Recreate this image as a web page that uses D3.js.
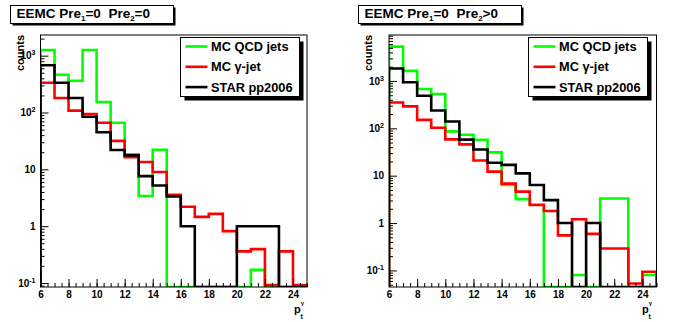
<!DOCTYPE html>
<html>
<head>
<meta charset="utf-8">
<script src="https://cdn.jsdelivr.net/npm/d3@7"></script>
<style>
  body { margin: 0; background: #fff; }
  text { font-family: "Liberation Sans", Arial, Helvetica, sans-serif; font-weight: bold; }
</style>
</head>
<body>
<div id="chart"></div>
<script>
var svgWidth = 696;
var svgHeight = 322;

// photon pT bins, lower edges 6..24 (1 GeV wide)
var binEdges = d3.range(6, 26);

// EEMC Pre1=0 Pre2=0
var leftQcd   = [1260, 462, 363, 1260, 153, 66, 18.4, 3.4, 22, 0, 0, 0, 0, 0, 0, 0.17, 0, 0, 0];
var leftGamma = [335, 180, 108, 94, 66, 31.7, 16.3, 13.5, 9.0, 3.57, 2.2, 1.46, 1.65, 0.82, 0.36, 0.395, 0.092, 0.36, 0.092];
var leftStar  = [677, 335, 180, 84, 45, 21.9, 17.6, 7.6, 5.2, 3.34, 1, 0, 0, 0, 1, 1, 1, 0, 0];

// EEMC Pre1=0 Pre2>0
var rightQcd   = [5300, 1630, 676, 529, 86, 73, 57.5, 31, 6.35, 3.2, 2.43, 0, 0, 0.08, 0, 3.3, 3.3, 0, 0.08];
var rightGamma = [352, 290, 151, 103, 58.5, 45.8, 20.9, 12.2, 6.8, 4.6, 2.4, 1.8, 0.55, 1.2, 0.59, 0.29, 0.29, 0.053, 0.094];
var rightStar  = [1830, 940, 488, 238, 139, 57.6, 35.8, 18.7, 16.9, 11.2, 6.35, 3.05, 1, 0, 1, 0, 0, 0, 0];

var seriesNames = ["MC QCD jets", "MC \u03b3-jet", "STAR pp2006"];
var seriesColors = ["#00ff00", "#ff0000", "#000000"];
var xTicks = [6, 8, 10, 12, 14, 16, 18, 20, 22, 24];
var yTicks = [0.1, 1, 10, 100, 1000];
var yTickLabels = { 0.1: ["10", "-1"], 1: ["1", ""], 10: ["10", ""], 100: ["10", "2"], 1000: ["10", "3"] };

var panels = [
  { ox: 0,   title: ["EEMC Pre", "1", "=0  Pre", "2", "=0"], data: [leftQcd, leftGamma, leftStar],
    left: 40.5, right: 307, yMin: Math.pow(10, -1.07), yMax: Math.pow(10, 3.364) },
  { ox: 348, title: ["EEMC Pre", "1", "=0  Pre", "2", ">0"], data: [rightQcd, rightGamma, rightStar],
    left: 389, right: 656.5, yMin: Math.pow(10, -1.35), yMax: Math.pow(10, 3.97) }
];

var frameTop = 35, frameBottom = 287;

var svg = d3.select("#chart")
  .append("svg")
  .attr("width", svgWidth)
  .attr("height", svgHeight);

panels.forEach(function(p, i) {
  var g = svg.append("g");

  var x = d3.scaleLinear().domain([6, 25]).range([p.left, p.right]);
  var y = d3.scaleLog().domain([p.yMin, p.yMax]).range([frameBottom, frameTop]);

  // clip for histogram lines
  var clipId = "clip" + i;
  svg.append("clipPath").attr("id", clipId)
    .append("rect")
    .attr("x", p.left).attr("y", frameTop)
    .attr("width", p.right - p.left).attr("height", frameBottom - frameTop);

  var line = d3.line()
    .x(function(d) { return x(d[0]); })
    .y(function(d) { return d[1] > 0 ? y(d[1]) : frameBottom; });

  p.data.forEach(function(vals, k) {
    var pts = [[6, 0]];
    vals.forEach(function(v, j) {
      pts.push([binEdges[j], v]);
      pts.push([binEdges[j + 1], v]);
    });
    pts.push([25, 0]);
    g.append("path")
      .attr("clip-path", "url(#" + clipId + ")")
      .attr("d", line(pts))
      .attr("fill", "none")
      .attr("stroke", seriesColors[k])
      .attr("stroke-width", 2.6);
  });

  // frame
  g.append("rect")
    .attr("x", p.left).attr("y", frameTop)
    .attr("width", p.right - p.left).attr("height", frameBottom - frameTop)
    .attr("fill", "none").attr("stroke", "#000").attr("stroke-width", 1);

  // x axis: major and minor ticks pointing into the frame
  var xMinor = d3.range(6, 25.01, 0.5);
  g.append("g")
    .attr("transform", "translate(0," + frameBottom + ")")
    .call(d3.axisBottom(x).tickValues(xMinor).tickSizeInner(-4).tickSizeOuter(0).tickFormat(""))
    .call(function(a) { a.select(".domain").remove(); });
  var xAxis = g.append("g")
    .attr("transform", "translate(0," + frameBottom + ")")
    .call(d3.axisBottom(x).tickValues(xTicks).tickSizeInner(-8).tickSizeOuter(0).tickPadding(4));
  xAxis.select(".domain").remove();
  xAxis.selectAll("text").attr("font-size", 10).attr("fill", "#000")
    .style("font-family", "'Liberation Sans', Arial, sans-serif").style("font-weight", "bold");

  // y axis: log ticks
  var yMinor = [];
  [-2, -1, 0, 1, 2, 3].forEach(function(e) {
    for (var m = 2; m <= 9; m++) {
      var v = m * Math.pow(10, e);
      if (v >= p.yMin && v <= p.yMax) yMinor.push(v);
    }
  });
  g.append("g")
    .attr("transform", "translate(" + p.left + ",0)")
    .call(d3.axisLeft(y).tickValues(yMinor).tickSizeInner(-4).tickSizeOuter(0).tickFormat(""))
    .call(function(a) { a.select(".domain").remove(); });
  var yAxis = g.append("g")
    .attr("transform", "translate(" + p.left + ",0)")
    .call(d3.axisLeft(y).tickValues(yTicks).tickSizeInner(-8).tickSizeOuter(0).tickPadding(5));
  yAxis.select(".domain").remove();
  yAxis.selectAll("text")
    .attr("font-size", 10).attr("fill", "#000")
    .style("font-family", "'Liberation Sans', Arial, sans-serif").style("font-weight", "bold")
    .text(null)
    .each(function(d) {
      var t = d3.select(this);
      var lab = yTickLabels[d];
      t.append("tspan").text(lab[0]);
      if (lab[1]) t.append("tspan").attr("dy", -4).attr("font-size", 7).text(lab[1]);
    });

  // axis titles
  g.append("text")
    .attr("transform", "translate(" + (p.ox + 24) + "," + frameTop + ") rotate(-90)")
    .attr("text-anchor", "end")
    .attr("font-size", 11)
    .text("counts");

  var xl = g.append("text")
    .attr("x", p.ox + 294).attr("y", 313)
    .attr("font-size", 11);
  xl.append("tspan").text("p");
  xl.append("tspan").attr("dx", 0).attr("dy", -8).attr("font-size", 6).text("\u03b3");
  xl.append("tspan").attr("dx", -3.5).attr("dy", 14).attr("font-size", 7).text("t");

  // title box
  var tb = { x: p.ox + 10.5, y: 5.5, w: 163, h: 18 };
  g.append("rect").attr("x", tb.x + 2).attr("y", tb.y + 2).attr("width", tb.w).attr("height", tb.h).attr("fill", "#000");
  g.append("rect").attr("x", tb.x).attr("y", tb.y).attr("width", tb.w).attr("height", tb.h)
    .attr("fill", "#fff").attr("stroke", "#000").attr("stroke-width", 1);
  var tt = g.append("text")
    .attr("x", tb.x + 6).attr("y", 17.5)
    .attr("font-size", 13.5)
    .style("white-space", "pre");
  p.title.forEach(function(s, j) {
    var ts = tt.append("tspan").text(s);
    if (j % 2 === 1) ts.attr("font-size", 8).attr("dy", 3);
    else if (j > 0) ts.attr("dy", -3);
  });

  // legend
  var lb = { x: p.ox + 180.5, y: 37.5, w: 119, h: 59 };
  g.append("rect").attr("x", lb.x + 4).attr("y", lb.y + 4).attr("width", lb.w).attr("height", lb.h).attr("fill", "#000");
  g.append("rect").attr("x", lb.x).attr("y", lb.y).attr("width", lb.w).attr("height", lb.h)
    .attr("fill", "#fff").attr("stroke", "#000").attr("stroke-width", 1);
  seriesNames.forEach(function(name, k) {
    var cy = 46.5 + k * 20.3;
    g.append("line")
      .attr("x1", lb.x + 5).attr("x2", lb.x + 27)
      .attr("y1", cy).attr("y2", cy)
      .attr("stroke", seriesColors[k]).attr("stroke-width", 2.6);
    g.append("text")
      .attr("x", lb.x + 30.5).attr("y", cy + 4.5)
      .attr("font-size", 12.8)
      .text(name);
  });
});
</script>
</body>
</html>
